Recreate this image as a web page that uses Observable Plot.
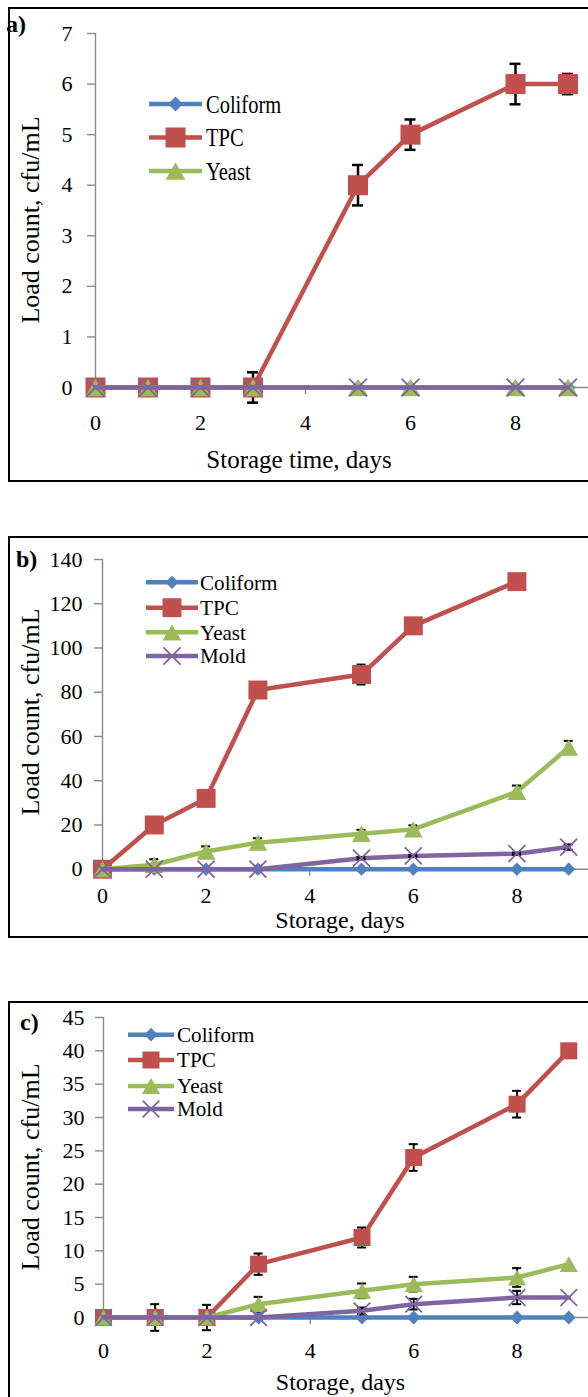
<!DOCTYPE html>
<html><head><meta charset="utf-8">
<script src="https://cdn.jsdelivr.net/npm/d3@7"></script>
<script src="https://cdn.jsdelivr.net/npm/@observablehq/plot@0.6"></script>
<style>
html,body{margin:0;padding:0;background:#fff;}
#root{position:relative;width:588px;height:1397px;overflow:hidden;background:#fff;font-family:"Liberation Serif","Times New Roman",serif;}
.frame{position:absolute;border:2px solid #000;box-sizing:border-box;}
.panel{position:absolute;left:0;width:660px;}
.panel svg{max-width:none !important;}
.panel text{font-family:"Liberation Serif","Times New Roman",serif;}
.plabel{position:absolute;font-weight:bold;font-size:24px;line-height:1;font-family:"Liberation Serif",serif;}
#legend{position:absolute;left:0;top:0;}
</style></head><body><div id="root"></div>
<script>
// ---------- data ----------
const days = [0, 1, 2, 3, 5, 6, 8, 9];
const seriesNames = ["Coliform", "TPC", "Yeast", "Mold"];
const seriesColors = ["#4F81BD", "#C0504D", "#9BBB59", "#8064A2"];
const xTicks = [0, 2, 4, 6, 8];

// panel a
const aColiform = [0, 0, 0, 0, 0, 0, 0, 0];
const aTPC = [0, 0, 0, 0, 4, 5, 6, 6];
const aTPCErr = [0, 0, 0, 0.3, 0.4, 0.3, 0.4, 0.2];
const aYeast = [0, 0, 0, 0, 0, 0, 0, 0];
const aMold = [0, 0, 0, 0, 0, 0, 0, 0];
const aYTicks = [0, 1, 2, 3, 4, 5, 6, 7];

// panel b
const bColiform = [0, 0, 0, 0, 0, 0, 0, 0];
const bTPC = [0, 20, 32, 81, 88, 110, 130, null];
const bTPCErr = [0, 3.5, 3.5, 0.8, 4.5, 1.5, 0.5, 0];
const bYeast = [0, 2, 8, 12, 16, 18, 35, 55];
const bYeastErr = [0, 2.5, 2.3, 2, 1.8, 1.8, 2.8, 3];
const bMold = [0, 0, 0, 0, 5, 6, 7, 10];
const bMoldErr = [0, 0, 0, 0, 0.5, 0.5, 0.5, 1.2];
const bYTicks = [0, 20, 40, 60, 80, 100, 120, 140];

// panel c
const cColiform = [0, 0, 0, 0, 0, 0, 0, 0];
const cTPC = [0, 0, 0, 8, 12, 24, 32, 40];
const cTPCErr = [0, 2, 1.9, 1.6, 1.5, 2, 2, 0];
const cYeast = [0, 0, 0, 2, 4, 5, 6, 8];
const cYeastErr = [0, 0, 0, 1.1, 1.1, 1.1, 1.4, 0];
const cMold = [0, 0, 0, 0, 1, 2, 3, 3];
const cMoldErr = [0, 0, 0, 0, 0.5, 0.8, 1, 0];
const cYTicks = [0, 5, 10, 15, 20, 25, 30, 35, 40, 45];

const panelLabels = ["a)", "b)", "c)"];
const yTitle = "Load count, cfu/mL";
const xTitles = ["Storage time, days", "Storage, days", "Storage, days"];

// ---------- layout / style config ----------
const FONT = "Liberation Serif";
const symbols = ["diamond2", "square", "triangle", "times"];
const d3Symbols = [d3.symbolDiamond2, d3.symbolSquare, d3.symbolTriangle, d3.symbolTimes];

const panels = [
  {
    values: [aColiform, aTPC, aYeast, aMold], errs: [null, aTPCErr, null, null],
    yTicks: aYTicks, yDomain: [0, 7],
    top: 0, height: 485, mt: 33, mb: 98, ml: 95,
    yTickPad: 15, xTickPad: 20,
    R: [6.8, 11.3, 7.4, 8.2], cap: 5.5, errW: 2.5,
    xTitleDx: -59, xTitleDy: 72.6, xTitleSize: 25, xTitleSqueeze: 0.82,
    yTitleCenter: 219.5,
    frame: {top: 7, height: 475}, label: {left: 6, top: 12},
    legend: {items: [0, 1, 2], rows: [104, 137.5, 171], x1: 149, x2: 202, tx: 206, fs: 25, sq: 0.82}
  },
  {
    values: [bColiform, bTPC, bYeast, bMold], errs: [null, bTPCErr, bYeastErr, bMoldErr],
    yTicks: bYTicks, yDomain: [0, 140],
    top: 500, height: 440, mt: 59, mb: 71.3, ml: 102,
    yTickPad: 12, xTickPad: 11,
    R: [6.0, 10.7, 7.0, 7.8], cap: 4.5, errW: 2,
    xTitleDx: -21.5, xTitleDy: 51.4, xTitleSize: 24, xTitleSqueeze: 1,
    yTitleCenter: 711.5,
    frame: {top: 536, height: 402}, label: {left: 16, top: 547},
    legend: {items: [0, 1, 2, 3], rows: [582.3, 607.7, 632.3, 656], x1: 146, x2: 198, tx: 200, fs: 22, sq: 0.96}
  },
  {
    values: [cColiform, cTPC, cYeast, cMold], errs: [null, cTPCErr, cYeastErr, cMoldErr],
    yTicks: cYTicks, yDomain: [0, 45],
    top: 990, height: 407, mt: 27, mb: 80, ml: 103,
    yTickPad: 11, xTickPad: 17.7,
    R: [6.2, 9.6, 6.8, 7.6], cap: 4.5, errW: 2,
    xTitleDx: -21.5, xTitleDy: 64.5, xTitleSize: 24, xTitleSqueeze: 1,
    yTitleCenter: 1166.5,
    frame: {top: 1001, height: 420}, label: {left: 20, top: 1010},
    legend: {items: [0, 1, 2, 3], rows: [1034.7, 1060, 1086, 1109], x1: 128, x2: 174, tx: 177, fs: 22, sq: 0.96}
  }
];

const W = 660, MR = 40;
const root = document.getElementById("root");

function squeeze(svg, sel, s) {
  if (s === 1) return;
  svg.querySelectorAll(sel).forEach(t => {
    const x = +t.getAttribute("x") || 0;
    const tr = t.getAttribute("transform") || "";
    t.setAttribute("transform", `${tr} translate(${x},0) scale(${s},1) translate(${-x},0)`);
  });
}

panels.forEach((p, pi) => {
  const fr = document.createElement("div");
  fr.className = "frame";
  fr.style.left = "8px"; fr.style.top = p.frame.top + "px";
  fr.style.width = "640px"; fr.style.height = p.frame.height + "px";
  root.appendChild(fr);

  const marks = [
    Plot.ruleY([0], {stroke: "#898989", strokeWidth: 1.4}),
    Plot.ruleX([0], {stroke: "#898989", strokeWidth: 1.4}),
    Plot.axisY({ticks: p.yTicks, tickSize: 8, tickPadding: p.yTickPad, stroke: "#898989", strokeWidth: 1.4, fill: "black", fontSize: 22, fontFamily: FONT, label: null, tickFormat: d3.format("d")}),
    Plot.axisX({ticks: xTicks, tickSize: 7, tickPadding: p.xTickPad, stroke: "#898989", strokeWidth: 1.4, fill: "black", fontSize: 22, fontFamily: FONT, label: null, tickFormat: d3.format("d")})
  ];

  p.values.forEach((vals, si) => {
    const rows = days.map((d, i) => ({day: d, v: vals[i], e: p.errs[si] ? p.errs[si][i] : 0}))
      .filter(r => r.v != null);
    const color = seriesColors[si];
    marks.push(Plot.line(rows, {x: "day", y: "v", stroke: color, strokeWidth: 4.5, strokeLinejoin: "round"}));
    const er = rows.filter(r => r.e > 0);
    if (er.length) {
      marks.push(Plot.ruleX(er, {x: "day", y1: r => r.v - r.e, y2: r => r.v + r.e, stroke: "black", strokeWidth: p.errW}));
      marks.push(Plot.ruleY(er, {x1: "day", x2: "day", y: r => r.v + r.e, insetLeft: -p.cap, insetRight: -p.cap, stroke: "black", strokeWidth: p.errW}));
      marks.push(Plot.ruleY(er, {x1: "day", x2: "day", y: r => r.v - r.e, insetLeft: -p.cap, insetRight: -p.cap, stroke: "black", strokeWidth: p.errW}));
    }
    const R = p.R[si];
    if (symbols[si] === "times") {
      marks.push(Plot.dot(rows, {x: "day", y: "v", symbol: "times", r: R, stroke: color, strokeWidth: 1.8, fill: "none"}));
    } else {
      let dy = 0;
      if (symbols[si] === "triangle") dy = Math.sqrt(Math.PI * R * R / (3 * Math.sqrt(3))) / 2;
      marks.push(Plot.dot(rows, {x: "day", y: "v", symbol: symbols[si], r: R, fill: color, stroke: "none", dy}));
    }
  });

  const frameMid = p.top + (p.mt + (p.height - p.mb)) / 2;
  marks.push(Plot.text([xTitles[pi]], {text: d => d, frameAnchor: "bottom", dx: p.xTitleDx, dy: p.xTitleDy, fontSize: p.xTitleSize, fontFamily: FONT, textAnchor: "middle", lineAnchor: "middle", fill: "black", ariaLabel: "xtitle"}));
  marks.push(Plot.text([yTitle], {text: d => d, frameAnchor: "left", rotate: -90, dx: 30 - p.ml, dy: p.yTitleCenter - frameMid, fontSize: 26, fontFamily: FONT, textAnchor: "middle", lineAnchor: "middle", fill: "black"}));

  const svg = Plot.plot({
    width: W, height: p.height,
    marginTop: p.mt, marginBottom: p.mb, marginLeft: p.ml, marginRight: MR,
    x: {domain: [0, 10]},
    y: {domain: p.yDomain},
    style: {fontFamily: "'Liberation Serif', serif", fontSize: "22px", color: "black", background: "transparent", overflow: "visible", maxWidth: "none"},
    marks
  });
  squeeze(svg, 'g[aria-label="xtitle"] text', p.xTitleSqueeze);
  const wrap = document.createElement("div");
  wrap.className = "panel";
  wrap.style.top = p.top + "px";
  wrap.appendChild(svg);
  root.appendChild(wrap);

  const lab = document.createElement("div");
  lab.className = "plabel";
  lab.textContent = panelLabels[pi];
  lab.style.left = p.label.left + "px"; lab.style.top = p.label.top + "px";
  root.appendChild(lab);
});

// ---------- legends ----------
const lg = d3.select(root).append("svg").attr("id", "legend").attr("width", 588).attr("height", 1397);
panels.forEach(p => {
  const L = p.legend;
  L.items.forEach((si, k) => {
    const y = L.rows[k];
    const color = seriesColors[si];
    lg.append("line").attr("x1", L.x1).attr("x2", L.x2).attr("y1", y).attr("y2", y)
      .attr("stroke", color).attr("stroke-width", 4.5);
    const R = p.R[si];
    const path = d3.symbol().type(d3Symbols[si]).size(Math.PI * R * R)();
    const cx = (L.x1 + L.x2) / 2;
    let dy = 0;
    if (symbols[si] === "triangle") dy = Math.sqrt(Math.PI * R * R / (3 * Math.sqrt(3))) / 2;
    const sym = lg.append("path").attr("d", path).attr("transform", `translate(${cx},${y + dy})`);
    if (symbols[si] === "times") sym.attr("fill", "none").attr("stroke", color).attr("stroke-width", 1.8);
    else sym.attr("fill", color);
    lg.append("text").attr("transform", `translate(${L.tx},${y + 0.34 * L.fs}) scale(${L.sq},1)`)
      .attr("font-family", "'Liberation Serif', serif").attr("font-size", L.fs)
      .attr("fill", "black").text(seriesNames[si]);
  });
});
</script></body></html>
